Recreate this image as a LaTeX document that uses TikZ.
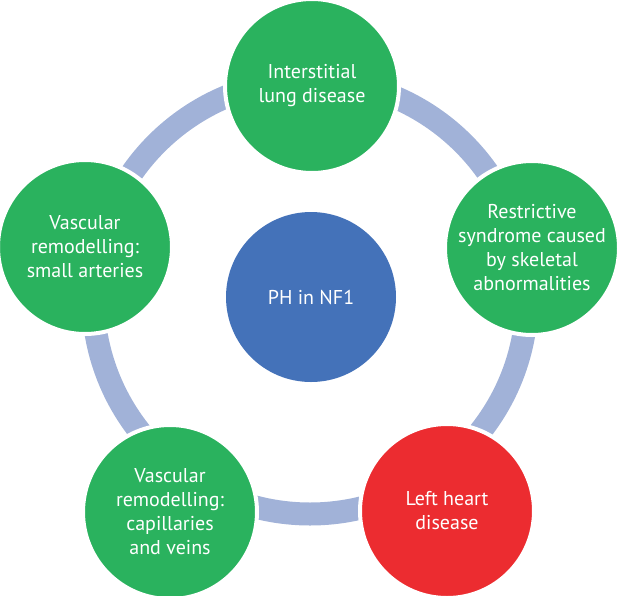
\documentclass[tikz,border=0pt]{standalone}
\usepackage{fontspec}
\setmainfont{PT Sans}
\definecolor{nodegreen}{RGB}{42,178,94}
\definecolor{nodeblue}{RGB}{68,114,185}
\definecolor{nodered}{RGB}{236,44,48}
\definecolor{ringblue}{RGB}{161,178,216}
\begin{document}
\begin{tikzpicture}[x=1pt,y=-1pt,
  bubble/.style={circle, minimum size=174pt, inner sep=0pt, draw=white, line width=4pt,
    text=white, align=center, font=\fontsize{20}{24}\selectfont},
  ringline/.style={draw=ringblue, line width=23pt}]
\useasboundingbox (0,0) rectangle (640,595);
\node[bubble, fill=nodeblue, draw=none, minimum size=170pt] (c) at (311,297) {PH in NF1};
\draw[ringline] (310,297) circle[radius=217];
\node[bubble, fill=nodegreen] (top) at (312,86) {Interstitial\\lung disease};
\node[bubble, fill=nodegreen] (right) at (532,248) {Restrictive\\syndrome caused\\by skeletal\\abnormalities};
\node[bubble, fill=nodered] (br) at (447,511) {Left heart\\disease};
\node[bubble, fill=nodegreen] (bl) at (170,512) {Vascular\\remodelling:\\capillaries\\and veins};
\node[bubble, fill=nodegreen] (left) at (85,247) {Vascular\\remodelling:\\small arteries};
\end{tikzpicture}
\end{document}
